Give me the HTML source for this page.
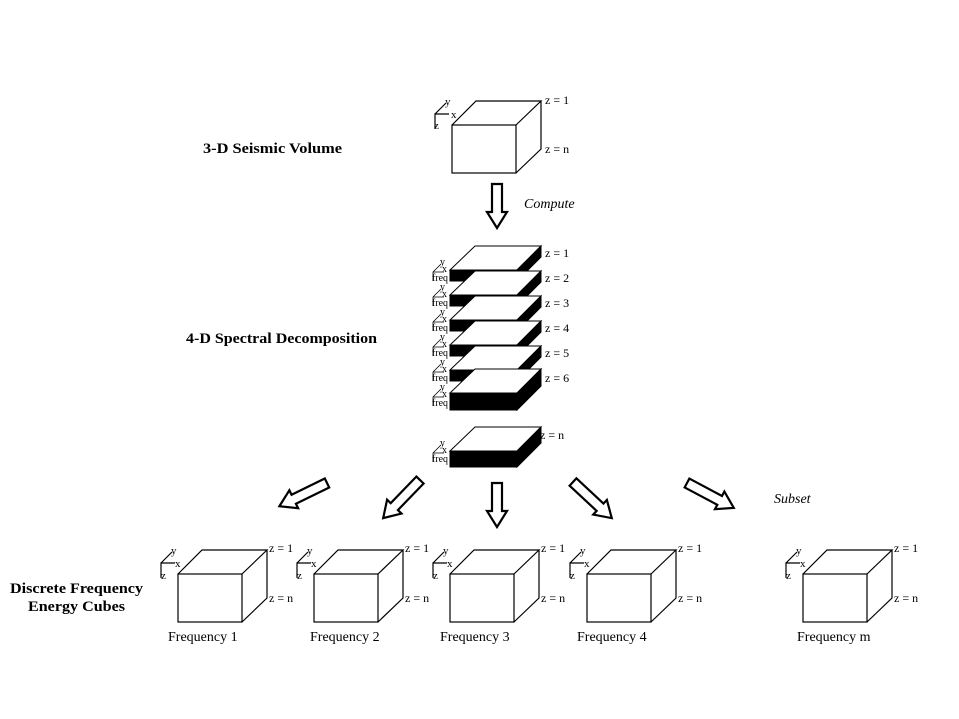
<!DOCTYPE html>
<html><head><meta charset="utf-8"><style>
html,body{margin:0;padding:0;background:#fff;}
svg{display:block;}
text{font-family:"Liberation Serif",serif;fill:#000;}
</style></head><body>
<svg width="959" height="719" viewBox="0 0 959 719" xmlns="http://www.w3.org/2000/svg">
<defs>
<g id="cube" fill="none" stroke="#000" stroke-width="1.2">
  <rect x="0" y="0" width="64" height="48" fill="#fff"/>
  <polyline points="0,0 24,-24 89,-24 64,0"/>
  <polyline points="89,-24 89,24 64,48"/>
  <path d="M-17,4 V-11 H-3 M-17,-11 L-6,-22" />
</g>
<path id="arr" d="M0,-5 L28,-5 L28,-10 L44,0 L28,10 L28,5 L0,5 Z" fill="#fff" stroke="#000" stroke-width="2.2"/>
<path id="arr2" d="M0,-5 L37,-5 L37,-10 L53,0 L37,10 L37,5 L0,5 Z" fill="#fff" stroke="#000" stroke-width="2.2"/>
</defs>

<text x="203" y="153" font-size="15" font-weight="bold" textLength="139" lengthAdjust="spacingAndGlyphs">3-D Seismic Volume</text>
<text x="186" y="343" font-size="15" font-weight="bold" textLength="191" lengthAdjust="spacingAndGlyphs">4-D Spectral Decomposition</text>
<text x="10" y="593" font-size="15" font-weight="bold" textLength="133" lengthAdjust="spacingAndGlyphs">Discrete Frequency</text>
<text x="28" y="611" font-size="15" font-weight="bold" textLength="97" lengthAdjust="spacingAndGlyphs">Energy Cubes</text>
<text x="524" y="208" font-size="14" font-style="italic">Compute</text>
<text x="774" y="503" font-size="14" font-style="italic">Subset</text>

<use href="#cube" x="452" y="125"/>
<text x="445" y="105" font-size="11">y</text>
<text x="451" y="118" font-size="11">x</text>
<text x="434" y="129" font-size="11">z</text>
<text x="545" y="104" font-size="12">z = 1</text>
<text x="545" y="153" font-size="12">z = n</text>

<use href="#arr" transform="translate(497,184) rotate(90)"/>

<g stroke="#000" stroke-width="1">
  <polygon points="450,270 517,270 541,246 475,246" fill="#fff"/><rect x="450" y="270" width="67" height="11" fill="#000"/><polygon points="517,270 541,246 541,257 517,281" fill="#000"/>
  <polygon points="450,295 517,295 541,271 475,271" fill="#fff"/><rect x="450" y="295" width="67" height="11" fill="#000"/><polygon points="517,295 541,271 541,282 517,306" fill="#000"/>
  <polygon points="450,320 517,320 541,296 475,296" fill="#fff"/><rect x="450" y="320" width="67" height="11" fill="#000"/><polygon points="517,320 541,296 541,307 517,331" fill="#000"/>
  <polygon points="450,345 517,345 541,321 475,321" fill="#fff"/><rect x="450" y="345" width="67" height="11" fill="#000"/><polygon points="517,345 541,321 541,332 517,356" fill="#000"/>
  <polygon points="450,370 517,370 541,346 475,346" fill="#fff"/><rect x="450" y="370" width="67" height="11" fill="#000"/><polygon points="517,370 541,346 541,357 517,381" fill="#000"/>
  <polygon points="450,393 517,393 541,369 475,369" fill="#fff"/><rect x="450" y="393" width="67" height="17" fill="#000"/><polygon points="517,393 541,369 541,386 517,410" fill="#000"/>
  <polygon points="450,451 517,451 541,427 475,427" fill="#fff"/><rect x="450" y="451" width="67" height="16" fill="#000"/><polygon points="517,451 541,427 541,443 517,467" fill="#000"/>
</g>
<g font-size="12">
<text x="545" y="257">z = 1</text>
<text x="545" y="282">z = 2</text>
<text x="545" y="307">z = 3</text>
<text x="545" y="332">z = 4</text>
<text x="545" y="357">z = 5</text>
<text x="545" y="382">z = 6</text>
<text x="540" y="439">z = n</text>
</g>
<g stroke="#000" stroke-width="0.8">
  <g id="fq">
    <path d="M433,272 V281 M433,272 H444 M433,272 L441,264" fill="none"/>
  </g>
  <use href="#fq" y="25"/><use href="#fq" y="50"/><use href="#fq" y="75"/><use href="#fq" y="100"/><use href="#fq" y="125"/><use href="#fq" y="181"/>
</g>
<g font-size="10">
  <g id="fqt"><text x="440" y="265">y</text><text x="442" y="272">x</text><text x="432" y="281" textLength="16" lengthAdjust="spacingAndGlyphs">freq</text></g>
  <use href="#fqt" y="25"/><use href="#fqt" y="50"/><use href="#fqt" y="75"/><use href="#fqt" y="100"/><use href="#fqt" y="125"/><use href="#fqt" y="181"/>
</g>

<use href="#arr2" transform="translate(327,483) rotate(154)"/>
<use href="#arr2" transform="translate(420,480) rotate(134)"/>
<use href="#arr" transform="translate(497,483) rotate(90)"/>
<use href="#arr2" transform="translate(573,482) rotate(43)"/>
<use href="#arr2" transform="translate(687,483) rotate(28)"/>

<g font-size="12">
  <use href="#cube" x="178" y="574"/>
  <text x="171" y="554" font-size="11">y</text><text x="175" y="567" font-size="11">x</text><text x="161" y="579" font-size="11">z</text>
  <text x="269" y="552">z = 1</text><text x="269" y="602">z = n</text>

  <use href="#cube" x="314" y="574"/>
  <text x="307" y="554" font-size="11">y</text><text x="311" y="567" font-size="11">x</text><text x="297" y="579" font-size="11">z</text>
  <text x="405" y="552">z = 1</text><text x="405" y="602">z = n</text>

  <use href="#cube" x="450" y="574"/>
  <text x="443" y="554" font-size="11">y</text><text x="447" y="567" font-size="11">x</text><text x="433" y="579" font-size="11">z</text>
  <text x="541" y="552">z = 1</text><text x="541" y="602">z = n</text>

  <use href="#cube" x="587" y="574"/>
  <text x="580" y="554" font-size="11">y</text><text x="584" y="567" font-size="11">x</text><text x="570" y="579" font-size="11">z</text>
  <text x="678" y="552">z = 1</text><text x="678" y="602">z = n</text>

  <use href="#cube" x="803" y="574"/>
  <text x="796" y="554" font-size="11">y</text><text x="800" y="567" font-size="11">x</text><text x="786" y="579" font-size="11">z</text>
  <text x="894" y="552">z = 1</text><text x="894" y="602">z = n</text>
</g>
<g font-size="14">
  <text x="168" y="641">Frequency 1</text>
  <text x="310" y="641">Frequency 2</text>
  <text x="440" y="641">Frequency 3</text>
  <text x="577" y="641">Frequency 4</text>
  <text x="797" y="641">Frequency m</text>
</g>
</svg>
</body></html>
